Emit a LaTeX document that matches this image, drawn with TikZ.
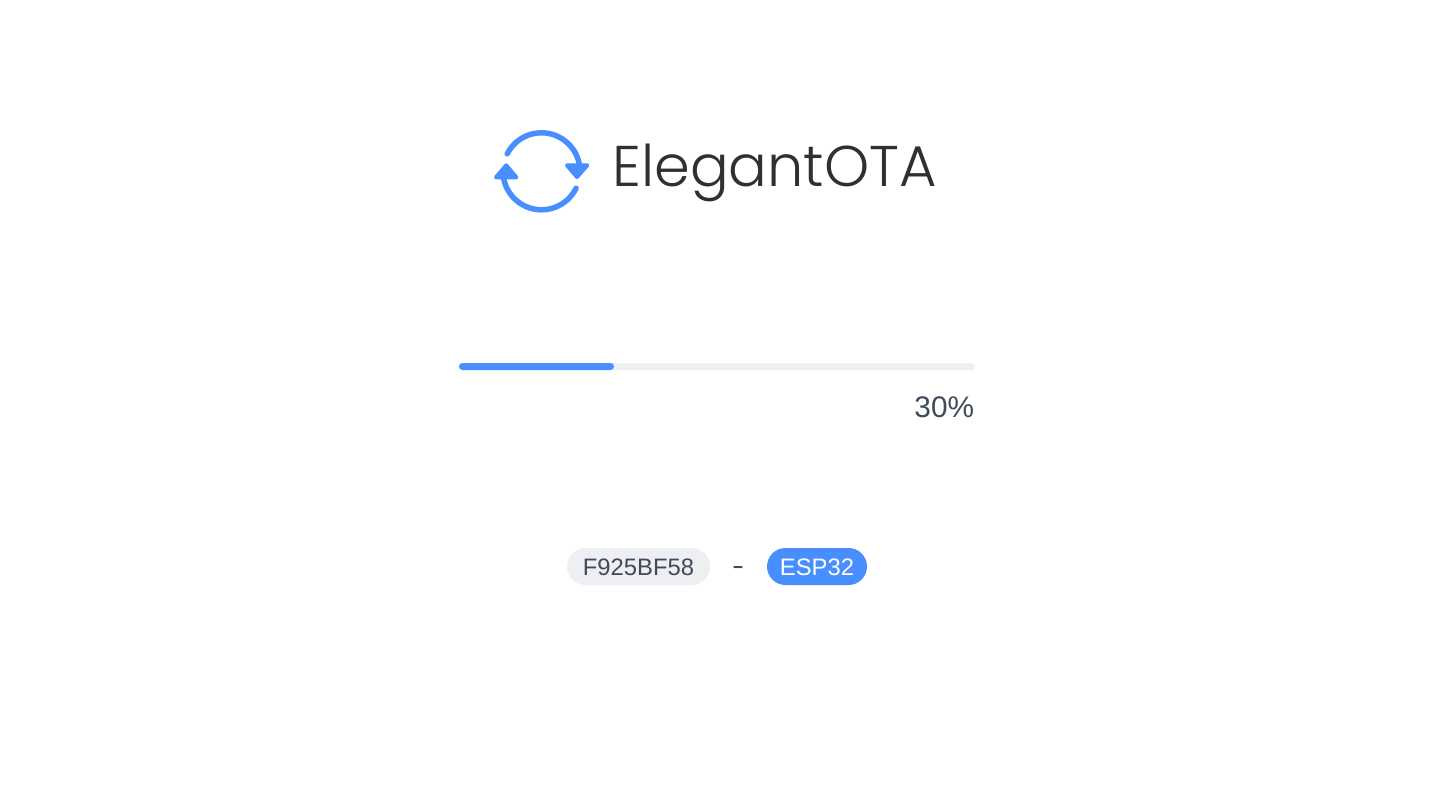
\documentclass[tikz,border=0pt]{standalone}
\usepackage{fontspec}
\setmainfont{Liberation Sans}
\newfontfamily\logofont{Poppins Light}
\definecolor{brandblue}{HTML}{488EFF}
\definecolor{trackgrey}{HTML}{EEEFF3}
\definecolor{labelgrey}{HTML}{3F4A5A}
\definecolor{logoink}{HTML}{2F3033}
\tikzset{
  ring/.style={draw=brandblue,line width=2.75pt,line cap=round},
  tip/.style={fill=brandblue,draw=brandblue,line width=2pt,line join=round},
  pillgrey/.style={fill=trackgrey,rounded corners=9.25pt},
  pillblue/.style={fill=brandblue,rounded corners=9.25pt},
  label/.style={inner sep=0pt,font=\fontsize{11.9pt}{14pt}\selectfont}
}
\begin{document}
\begin{tikzpicture}[x=0.5pt,y=0.5pt]
\useasboundingbox (0,0) rectangle (1448,800);
\fill[white] (0,0) rectangle (1448,800);
% logo: Y = 800 - pixel row
\coordinate (hub) at (541.5,628.7);
\draw[ring] ([shift={(153:38.5)}]hub) arc[start angle=153,end angle=10,radius=19.25pt];
\draw[ring] ([shift={(190:38.5)}]hub) arc[start angle=190,end angle=334,radius=19.25pt];
\draw[tip] (567,634.7) -- (587.3,634.7) -- (577,623) -- cycle;
\draw[tip] (506.2,634.7) -- (496,622.7) -- (516.3,622.7) -- cycle;
\node[anchor=base west,inner sep=0pt,text=logoink,font=\logofont\fontsize{28.7pt}{36pt}\selectfont] (logo) at (612,613) {ElegantOTA};
% progress bar
\fill[trackgrey,rounded corners=1.75pt] (459,430) rectangle (975,437);
\fill[brandblue,rounded corners=1.75pt] (459,430) rectangle (614,437);
\node[anchor=base east,inner sep=0pt,text=labelgrey,font=\fontsize{14.9pt}{18pt}\selectfont] (pct) at (974.5,383) {30\%};
% pills
\fill[pillgrey] (567,215) rectangle (710,252);
\fill[pillblue] (767,215) rectangle (867,252);
\node[label,anchor=base,text=labelgrey] (hash) at (638.5,225) {F925BF58};
\node[label,anchor=base,text=labelgrey] (dash) at (738,226) {\scalebox{1.5}[1.1]{-}};
\node[label,anchor=base,text=white] (chip) at (817,225) {ESP32};
\end{tikzpicture}
\end{document}
